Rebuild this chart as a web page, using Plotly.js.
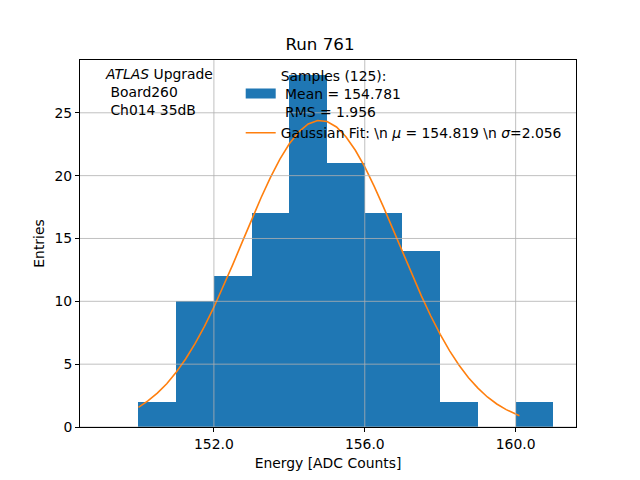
<!DOCTYPE html>
<html>
<head>
<meta charset="utf-8">
<script src="https://cdn.plot.ly/plotly-3.0.1.min.js"></script>
<style>html,body{margin:0;padding:0;background:#fff}#chart{width:640px;height:480px}</style>
</head>
<body>
<div id="chart"></div>
<script>
// Histogram bins (left edges) and counts
const binEdges = [150, 151, 152, 153, 154, 155, 156, 157, 158, 159, 160, 161];
const counts   = [2, 10, 12, 17, 28, 21, 17, 14, 2, 0, 2];

// Gaussian fit curve
const fitX = [150.0,150.25,150.5,150.75,151.0,151.25,151.5,151.75,152.0,152.25,152.5,152.75,153.0,153.25,153.5,153.75,154.0,154.25,154.5,154.75,155.0,155.25,155.5,155.75,156.0,156.25,156.5,156.75,157.0,157.25,157.5,157.75,158.0,158.25,158.5,158.75,159.0,159.25,159.5,159.75,160.0,160.1];
const fitY = [1.56,2.07,2.69,3.44,4.35,5.41,6.63,8.01,9.53,11.18,12.92,14.71,16.50,18.24,19.86,21.31,22.54,23.48,24.11,24.39,24.31,23.87,23.10,22.02,20.69,19.15,17.47,15.70,13.90,12.13,10.43,8.83,7.37,6.06,4.91,3.92,3.09,2.39,1.83,1.38,1.02,0.90];

const xTicks = [152, 156, 160];
const xTickLabels = ["152.0", "156.0", "160.0"];
const yTicks = [0, 5, 10, 15, 20, 25];

const histName = "Samples (125):<br> Mean = 154.781<br> RMS = 1.956";
const fitName = "Gaussian Fit: \\n <i>μ</i> = 154.819 \\n <i>σ</i>=2.056";

const centers = counts.map((c, i) => (binEdges[i] + binEdges[i + 1]) / 2);
const widths = counts.map((c, i) => binEdges[i + 1] - binEdges[i]);

const traces = [
  {type: "bar", x: centers, y: counts, width: widths, name: histName, showlegend: false,
   marker: {color: "#1f77b4", line: {width: 0}}},
  // legend-only handle for the histogram (wide patch like matplotlib)
  {type: "scatter", mode: "lines", x: [null], y: [null], name: histName,
   line: {color: "#1f77b4", width: 10}, hoverinfo: "skip"},
  {type: "scatter", mode: "lines", x: fitX, y: fitY, name: fitName,
   line: {color: "#ff7f0e", width: 1.6}}
];

const gridStyle = {color: "#b0b0b0", width: 0.8};
const shapes = [];
xTicks.forEach(t => shapes.push({type: "line", xref: "x", yref: "paper", x0: t, x1: t, y0: 0, y1: 1, line: gridStyle, layer: "above"}));
yTicks.forEach(t => shapes.push({type: "line", xref: "paper", yref: "y", x0: 0, x1: 1, y0: t, y1: t, line: gridStyle, layer: "above"}));

const font = {family: "DejaVu Sans, sans-serif", size: 13.9, color: "#000"};

const layout = {
  width: 640, height: 480,
  margin: {l: 80, r: 64, t: 60, b: 53},
  paper_bgcolor: "#fff", plot_bgcolor: "#fff",
  font: font,
  title: {text: "Run 761", font: {family: "DejaVu Sans, sans-serif", size: 16.7, color: "#000"}, x: 0.5, xanchor: "center", y: 0.908, yanchor: "middle"},
  bargap: 0,
  showlegend: true,
  legend: {x: 0.324, y: 1.0, xanchor: "left", yanchor: "top", bgcolor: "rgba(0,0,0,0)", borderwidth: 0,
           font: font, valign: "middle", itemwidth: 30},
  xaxis: {range: [148.45, 161.6], tickvals: xTicks, ticktext: xTickLabels, showgrid: false, zeroline: false,
          showline: true, mirror: true, linecolor: "#000", linewidth: 1,
          ticks: "outside", ticklen: 4, tickcolor: "#000", tickfont: font,
          title: {text: "Energy [ADC Counts]", font: font, standoff: 7}},
  yaxis: {range: [0, 29.2], tickvals: yTicks, showgrid: false, zeroline: false,
          showline: true, mirror: true, linecolor: "#000", linewidth: 1,
          ticks: "outside", ticklen: 4, tickcolor: "#000", tickfont: font,
          title: {text: "Entries", font: font, standoff: 6}},
  shapes: shapes,
  annotations: [{xref: "paper", yref: "paper", x: 0.046, y: 0.99, xanchor: "left", yanchor: "top", align: "left",
                 showarrow: false, font: font,
                 text: "<i>ATLAS</i> Upgrade<br> Board260<br> Ch014 35dB"}]
};

Plotly.newPlot("chart", traces, layout, {displayModeBar: false, staticPlot: true});
</script>
</body>
</html>
